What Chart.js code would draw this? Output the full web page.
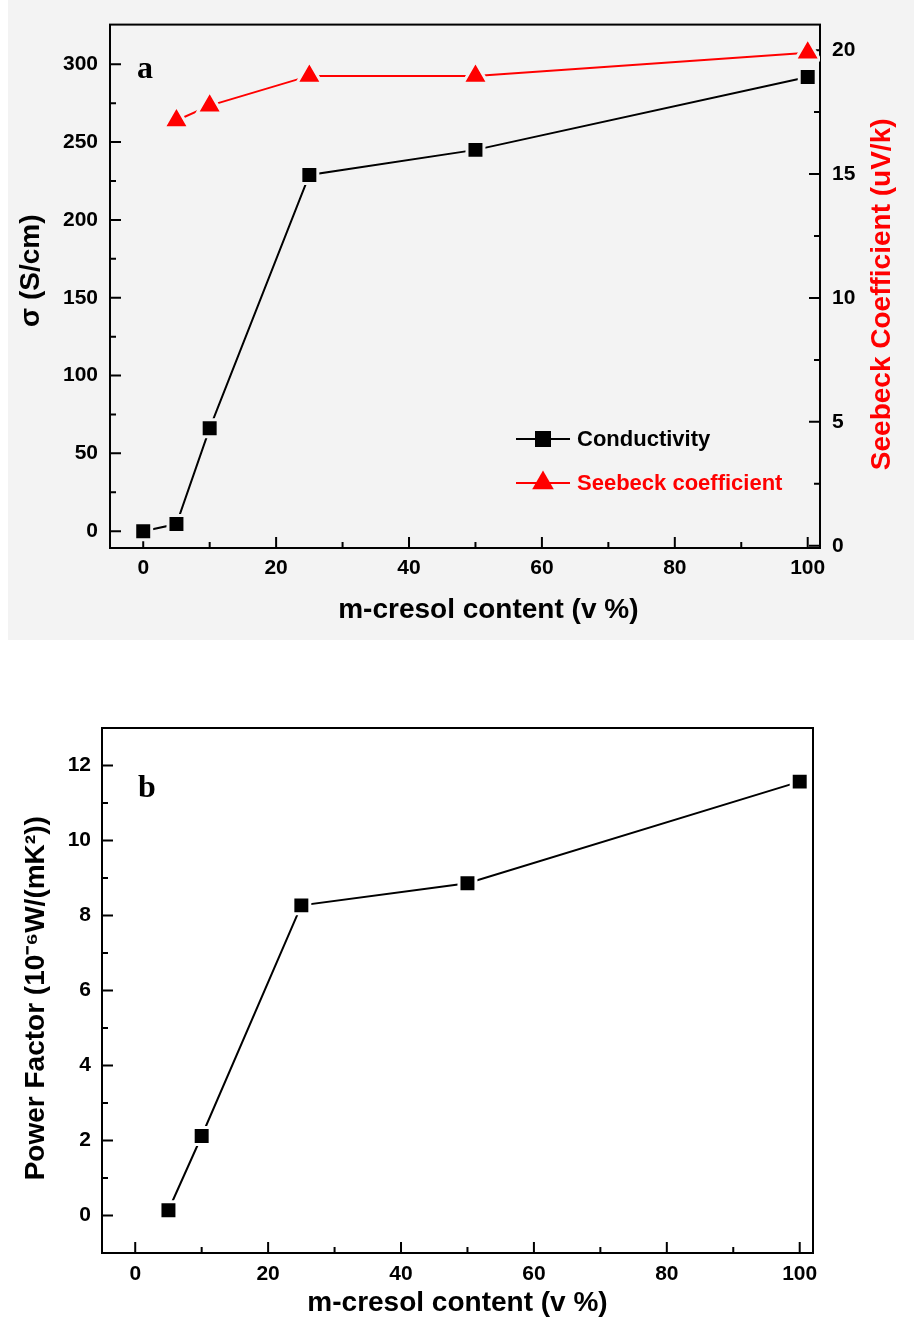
<!DOCTYPE html>
<html>
<head>
<meta charset="utf-8">
<script src="https://cdn.jsdelivr.net/npm/chart.js@4.4.1/dist/chart.umd.min.js"></script>
<style>
  html, body { margin: 0; padding: 0; background: #fff; }
  body { width: 914px; height: 1320px; position: relative; overflow: hidden; }
  #chart-a { position: absolute; left: 0; top: 0; }
  #chart-b { position: absolute; left: 0; top: 660px; }
</style>
</head>
<body>
<canvas id="chart-a" width="914" height="640"></canvas>
<canvas id="chart-b" width="914" height="660"></canvas>
<script>
// values
const cresolA       = [0, 5, 10, 25, 50, 100]
const conductivity  = [0, 4.6, 66.1, 228.9, 245.0, 291.8]
const cresolSeebeck = [5, 10, 25, 50, 100]
const seebeck       = [17.16, 17.76, 18.96, 18.96, 19.89]
const cresolB       = [5, 10, 25, 50, 100]
const powerFactor   = [0.14, 2.12, 8.27, 8.86, 11.57]

// tick positions
const xTicks       = [0, 20, 40, 60, 80, 100]
const xMinor       = [10, 30, 50, 70, 90]
const sigmaTicks   = [0, 50, 100, 150, 200, 250, 300]
const sigmaMinor   = [25, 75, 125, 175, 225, 275]
const seebeckTicks = [0, 5, 10, 15, 20]
const seebeckMinor = [2.5, 7.5, 12.5, 17.5]
const pfTicks      = [0, 2, 4, 6, 8, 10, 12]
const pfMinor      = [1, 3, 5, 7, 9, 11]

const FONT = '"Liberation Sans", Arial, Helvetica, sans-serif'
const BG_A = '#f3f3f3'
const RED = '#ff0000'

Chart.defaults.font.family = FONT
Chart.defaults.color = '#000'

function tickOpts(pad) {
  return { color: '#000', padding: pad, autoSkip: false, maxRotation: 0,
    font: { family: FONT, size: 21, weight: 'bold' } }
}
function titleOpts(text, pad, color) {
  return { display: true, text, color: color || '#000', padding: pad,
    font: { family: FONT, size: 28, weight: 'bold' } }
}
function useTicks(values) {
  return s => { s.ticks = values.map(v => ({ value: v })) }
}
const noGrid = { display: false, drawTicks: false }

// background, frame and inward tick marks
const axisDecor = {
  id: 'axisDecor',
  beforeDraw(chart, args, opts) {
    if (!opts.bg) return
    const { ctx, width, height } = chart
    ctx.save()
    ctx.fillStyle = opts.bg
    ctx.fillRect(8, 0, width - 8, height)
    ctx.restore()
  },
  beforeDatasetsDraw(chart, args, opts) {
    const { ctx, chartArea: a } = chart
    ctx.save()
    ctx.strokeStyle = '#000'
    ctx.lineWidth = 2
    ctx.strokeRect(a.left, a.top, a.right - a.left, a.bottom - a.top)
    ctx.beginPath()
    for (const id in (opts.marks || {})) {
      const s = chart.scales[id]
      const [major, minor] = opts.marks[id]
      const draw = (v, len) => {
        const p = s.getPixelForValue(v)
        if (s.position === 'bottom') { ctx.moveTo(p, a.bottom); ctx.lineTo(p, a.bottom - len) }
        else if (s.position === 'left') { ctx.moveTo(a.left, p); ctx.lineTo(a.left + len, p) }
        else { ctx.moveTo(a.right, p); ctx.lineTo(a.right - len, p) }
      }
      major.forEach(v => draw(v, 11))
      minor.forEach(v => draw(v, 6))
    }
    ctx.stroke()
    ctx.restore()
  },
  afterDraw(chart, args, opts) {
    const { ctx, chartArea: a } = chart
    ctx.save()
    if (opts.letter) {
      ctx.fillStyle = '#000'
      ctx.font = 'bold 32px "Liberation Serif", "Times New Roman", serif'
      ctx.textBaseline = 'alphabetic'
      ctx.fillText(opts.letter.text, opts.letter.x, opts.letter.y)
    }
    if (opts.rightTitle) {
      const t = opts.rightTitle
      ctx.translate(t.x, (a.top + a.bottom) / 2 + t.dy)
      ctx.rotate(-Math.PI / 2)
      ctx.fillStyle = t.color
      ctx.font = 'bold 28px ' + FONT
      ctx.textAlign = 'center'
      ctx.textBaseline = 'middle'
      ctx.fillText(t.text, 0, 0)
    }
    ctx.restore()
  }
}

// line + marker legend drawn from the datasets
const lineLegend = {
  id: 'lineLegend',
  afterDraw(chart, args, opts) {
    if (!opts.rows) return
    const { ctx } = chart
    ctx.save()
    chart.data.datasets.forEach((ds, i) => {
      const y = opts.rows[i]
      const x0 = opts.x, x1 = opts.x + 54, xm = (x0 + x1) / 2
      ctx.strokeStyle = ds.borderColor
      ctx.lineWidth = 2
      ctx.beginPath(); ctx.moveTo(x0, y); ctx.lineTo(x1, y); ctx.stroke()
      ctx.fillStyle = ds.pointBackgroundColor
      ctx.beginPath()
      if (ds.pointStyle === 'rect') {
        ctx.rect(xm - 8, y - 8, 16, 16)
      } else {
        const r = 12.5
        ctx.moveTo(xm, y - r)
        ctx.lineTo(xm + r * 0.866, y + r / 2)
        ctx.lineTo(xm - r * 0.866, y + r / 2)
        ctx.closePath()
      }
      ctx.fill()
      ctx.fillStyle = ds.borderColor
      ctx.font = 'bold 22px ' + FONT
      ctx.textBaseline = 'middle'
      ctx.fillText(ds.label, x1 + 7, y + 1)
    })
    ctx.restore()
  }
}

// (a) conductivity and Seebeck coefficient
new Chart(document.getElementById('chart-a'), {
  type: 'line',
  data: {
    datasets: [
      {
        label: 'Conductivity',
        data: cresolA.map((x, i) => ({ x, y: conductivity[i] })),
        yAxisID: 'y',
        borderColor: '#000',
        backgroundColor: '#000',
        borderWidth: 2,
        pointStyle: 'rect',
        pointRadius: 12,
        pointBackgroundColor: '#000',
        pointBorderColor: BG_A,
        pointBorderWidth: 3,
        tension: 0,
      },
      {
        label: 'Seebeck coefficient',
        data: cresolSeebeck.map((x, i) => ({ x, y: seebeck[i] })),
        yAxisID: 'y2',
        borderColor: RED,
        backgroundColor: RED,
        borderWidth: 2,
        pointStyle: 'triangle',
        pointRadius: 14.5,
        pointBackgroundColor: RED,
        pointBorderColor: BG_A,
        pointBorderWidth: 3,
        tension: 0,
      }
    ]
  },
  options: {
    responsive: false, animation: false, devicePixelRatio: 1,
    layout: { padding: { top: 20, left: 0, right: 0, bottom: 0 } },
    plugins: {
      legend: { display: false },
      tooltip: { enabled: false },
      axisDecor: {
        bg: BG_A,
        marks: { x: [xTicks, xMinor], y: [sigmaTicks, sigmaMinor], y2: [seebeckTicks, seebeckMinor] },
        letter: { text: 'a', x: 137, y: 78 },
        rightTitle: { text: 'Seebeck Coefficient (uV/k)', x: 882, dy: 8, color: RED }
      },
      lineLegend: { x: 516, rows: [439, 483] }
    },
    scales: {
      x: {
        type: 'linear', position: 'bottom', min: -5, max: 101.85,
        grid: noGrid, border: { display: false },
        ticks: tickOpts(8),
        afterBuildTicks: useTicks(xTicks),
        afterFit: s => { s.height = 92 },
        title: titleOpts('      m-cresol content (v %)', { top: 0, bottom: 13 })
      },
      y: {
        type: 'linear', position: 'left', min: -10.8, max: 325.5,
        grid: noGrid, border: { display: false },
        ticks: tickOpts(12),
        afterBuildTicks: useTicks(sigmaTicks),
        afterFit: s => { s.width = 110 },
        title: titleOpts('    σ (S/cm)', { top: 14, bottom: 0 })
      },
      y2: {
        type: 'linear', position: 'right', min: -0.09, max: 21.03,
        grid: noGrid, border: { display: false },
        ticks: tickOpts(12),
        afterBuildTicks: useTicks(seebeckTicks),
        afterFit: s => { s.width = 94 }
      }
    }
  },
  plugins: [axisDecor, lineLegend]
})

// (b) power factor
new Chart(document.getElementById('chart-b'), {
  type: 'line',
  data: {
    datasets: [{
      label: 'Power Factor',
      data: cresolB.map((x, i) => ({ x, y: powerFactor[i] })),
      borderColor: '#000',
      backgroundColor: '#000',
      borderWidth: 2,
      pointStyle: 'rect',
      pointRadius: 12,
      pointBackgroundColor: '#000',
      pointBorderColor: '#fff',
      pointBorderWidth: 3,
      tension: 0,
    }]
  },
  options: {
    responsive: false, animation: false, devicePixelRatio: 1,
    layout: { padding: { top: 68, left: 0, right: 101, bottom: 0 } },
    plugins: {
      legend: { display: false },
      tooltip: { enabled: false },
      axisDecor: {
        marks: { x: [xTicks, xMinor], y: [pfTicks, pfMinor] },
        letter: { text: 'b', x: 138, y: 137 }
      }
    },
    scales: {
      x: {
        type: 'linear', position: 'bottom', min: -5, max: 102,
        grid: noGrid, border: { display: false },
        ticks: tickOpts(9),
        afterBuildTicks: useTicks(xTicks),
        afterFit: s => { s.height = 67 },
        title: titleOpts('m-cresol content (v %)', { top: 0, bottom: 0 })
      },
      y: {
        type: 'linear', position: 'left', min: -1, max: 13,
        grid: noGrid, border: { display: false },
        ticks: tickOpts(11),
        afterBuildTicks: useTicks(pfTicks),
        afterFit: s => { s.width = 102 },
        title: titleOpts('Power Factor (10⁻⁶W/(mK²))  ', { top: 19, bottom: 0 })
      }
    }
  },
  plugins: [axisDecor]
})
</script>
</body>
</html>
